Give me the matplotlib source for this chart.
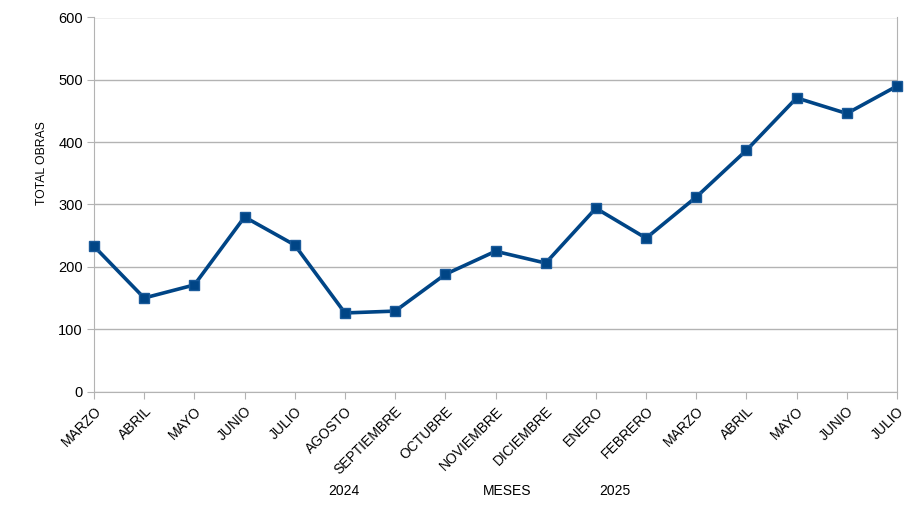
import matplotlib
matplotlib.use("Agg")
import matplotlib.pyplot as plt

months = ["MARZO", "ABRIL", "MAYO", "JUNIO", "JULIO", "AGOSTO", "SEPTIEMBRE",
          "OCTUBRE", "NOVIEMBRE", "DICIEMBRE", "ENERO", "FEBRERO", "MARZO",
          "ABRIL", "MAYO", "JUNIO", "JULIO"]
values = [233, 150, 171, 280, 235, 126, 129, 188, 225, 206, 294, 246, 312,
          387, 471, 446, 490]
yticks = [0, 100, 200, 300, 400, 500, 600]

plt.rcParams['font.family'] = ['Liberation Sans', 'DejaVu Sans']

fig = plt.figure(figsize=(9.21, 5.18), dpi=100)
ax = fig.add_axes([94/921, 1 - 391.5/518, (897-94)/921, (391.5-17.5)/518])

x = list(range(len(months)))
ax.plot(x, values, color="#004586", linewidth=2.6, marker="s", markersize=7.5,
        markerfacecolor="#004586", markeredgecolor="#1a5a9a", markeredgewidth=1.0,
        zorder=3, clip_on=False)

ax.set_xlim(0, len(months) - 1)
ax.set_ylim(0, 600)
ax.set_yticks(yticks)
ax.set_yticklabels([str(v) for v in yticks], fontsize=10.5)
ax.set_xticks(x)
ax.set_xticklabels(months, rotation=45, ha="right", rotation_mode="anchor", fontsize=10)
ax.grid(axis="y", color="#b3b3b3", linewidth=1)
ax.set_axisbelow(True)
for s in ["top", "bottom", "left", "right"]:
    ax.spines[s].set_color("#b3b3b3")
ax.spines["top"].set_visible(False)
ax.tick_params(axis="both", color="#b3b3b3", length=5, pad=3)
ax.tick_params(axis="x", pad=4)

fig.text(42/921, 1 - 163/518, "TOTAL OBRAS", fontsize=8.8, rotation=90,
         ha="center", va="center")

fig.text(507/921, 1 - 491/518, "MESES", fontsize=10, ha="center", va="center")
fig.text(344/921, 1 - 491/518, "2024", fontsize=10, ha="center", va="center")
fig.text(615/921, 1 - 491/518, "2025", fontsize=10, ha="center", va="center")

fig.savefig("out.png", dpi=100)
